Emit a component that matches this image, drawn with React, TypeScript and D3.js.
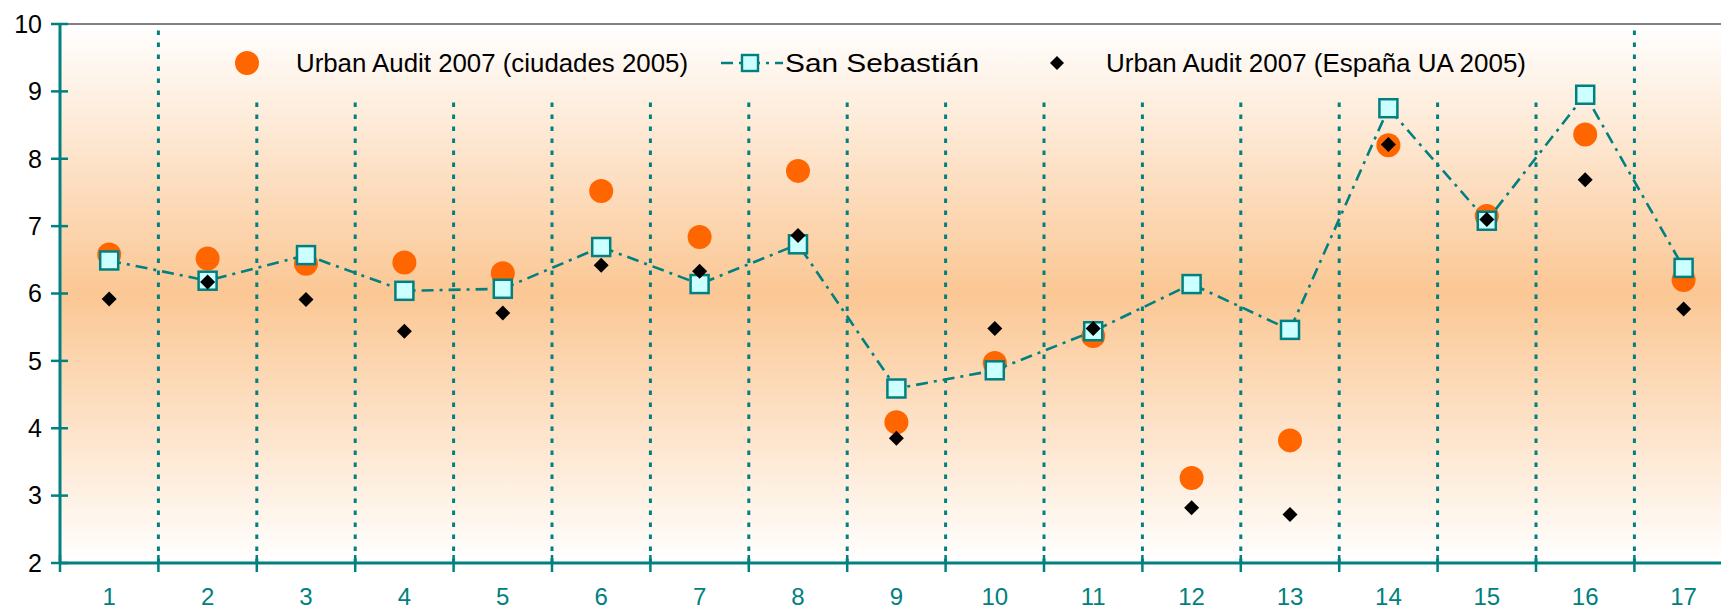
import React from "react";
import * as d3 from "d3";

const categories = ["1","2","3","4","5","6","7","8","9","10","11","12","13","14","15","16","17"];
const urbanAudit = [6.58,6.52,6.44,6.46,6.30,7.52,6.84,7.82,4.09,4.97,5.37,3.26,3.82,8.20,7.15,8.36,6.20];
const sanSebastian = [6.49,6.19,6.57,6.04,6.07,6.69,6.14,6.73,4.59,4.86,5.44,6.14,5.46,8.75,7.08,8.95,6.38];
const espana = [5.92,6.17,5.91,5.44,5.71,6.42,6.33,6.86,3.85,5.48,5.48,2.82,2.72,8.21,7.10,7.69,5.77];
const yTicks = [2,3,4,5,6,7,8,9,10];
const legendLabels = ["Urban Audit 2007 (ciudades 2005)", "San Sebastián", "Urban Audit 2007 (España UA 2005)"];

const W = 1721, H = 611;
const L = 60, T = 24, B = 563;
const step = 98.4;
const TEAL = "#008080";
const FONT = "'Liberation Sans', Arial, sans-serif";

export default function App() {
  const x = d3.scaleBand<string>().domain(categories).range([L, L + step * categories.length]).padding(0);
  const y = d3.scaleLinear().domain([2, 10]).range([B, T]);
  const cx = (c: string) => (x(c) as number) + x.bandwidth() / 2;
  const R = x.range()[1];
  const line = d3.line<number>().x((_, i) => cx(categories[i])).y(d => y(d));
  const boundaries = categories.map(c => x(c) as number).slice(1).concat([R]);

  return (
    <svg width={W} height={H} style={{ position: "absolute", left: 0, top: 0, display: "block" }} fontFamily={FONT}>
      <defs>
        <linearGradient id="bg" gradientUnits="userSpaceOnUse" x1="0" y1={T} x2="0" y2={B}>
          <stop offset="0%" stopColor="#ffffff" />
          <stop offset="50%" stopColor="#fbc794" />
          <stop offset="100%" stopColor="#ffffff" />
        </linearGradient>
      </defs>
      <rect x={0} y={0} width={W} height={H} fill="#fff" />
      <rect x={L} y={T} width={R - L} height={B - T} fill="url(#bg)" />
      {/* gridlines */}
      {boundaries.map((bx, i) => (
        <line key={i} x1={bx} x2={bx} y1={B} y2={T} stroke={TEAL} strokeWidth={3} strokeDasharray="4.5,7.5" />
      ))}
      {/* top border */}
      <line x1={L} x2={R} y1={T} y2={T} stroke="#808080" strokeWidth={2} />
      {/* legend box */}
      <rect x={200} y={27} width={1370} height={68} fill="url(#bg)" />
      {/* legend items */}
      <g fontSize={25} fill="#000">
        <circle cx={247} cy={63} r={12} fill="#ff6600" />
        <text x={296} y={72} textLength={392} lengthAdjust="spacingAndGlyphs">{legendLabels[0]}</text>
        <line x1={721} x2={783} y1={63} y2={63} stroke={TEAL} strokeWidth={2.6} strokeDasharray="12,6,3,6" />
        <rect x={742} y={55} width={16} height={16} fill="#ccffff" stroke={TEAL} strokeWidth={2.4} />
        <text x={785} y={72} textLength={194} lengthAdjust="spacingAndGlyphs">{legendLabels[1]}</text>
        <path d="M1057,56 L1064,63 L1057,70 L1050,63 Z" fill="#000" />
        <text x={1106} y={72} textLength={420} lengthAdjust="spacingAndGlyphs">{legendLabels[2]}</text>
      </g>
      {/* axes */}
      <line x1={L} x2={L} y1={T} y2={B} stroke={TEAL} strokeWidth={3} />
      <line x1={L} x2={R} y1={B} y2={B} stroke={TEAL} strokeWidth={3} />
      {yTicks.map(t => (
        <g key={t}>
          <line x1={51} x2={68} y1={y(t)} y2={y(t)} stroke={TEAL} strokeWidth={2.5} />
          <text x={42} y={y(t)} dy="0.35em" textAnchor="end" fontSize={25} fill="#000">{t}</text>
        </g>
      ))}
      {[L, ...boundaries].map((bx, i) => (
        <line key={i} x1={bx} x2={bx} y1={B - 8} y2={B + 9} stroke={TEAL} strokeWidth={2.5} />
      ))}
      {categories.map(c => (
        <text key={c} x={cx(c)} y={605} textAnchor="middle" fontSize={24} fill={TEAL}>{c}</text>
      ))}
      {/* orange circles */}
      {urbanAudit.map((v, i) => (
        <circle key={i} cx={cx(categories[i])} cy={y(v)} r={12} fill="#ff6600" />
      ))}
      {/* San Sebastian line */}
      <path d={line(sanSebastian) || ""} fill="none" stroke={TEAL} strokeWidth={2.6} strokeDasharray="12,6,3,6" />
      {sanSebastian.map((v, i) => (
        <rect key={i} x={cx(categories[i]) - 9} y={y(v) - 9} width={18} height={18} fill="#ccffff" stroke={TEAL} strokeWidth={2.5} />
      ))}
      {/* black diamonds */}
      {espana.map((v, i) => {
        const px = cx(categories[i]), py = y(v);
        return <path key={i} d={`M${px},${py - 7.5} L${px + 7.5},${py} L${px},${py + 7.5} L${px - 7.5},${py} Z`} fill="#000" />;
      })}
    </svg>
  );
}
